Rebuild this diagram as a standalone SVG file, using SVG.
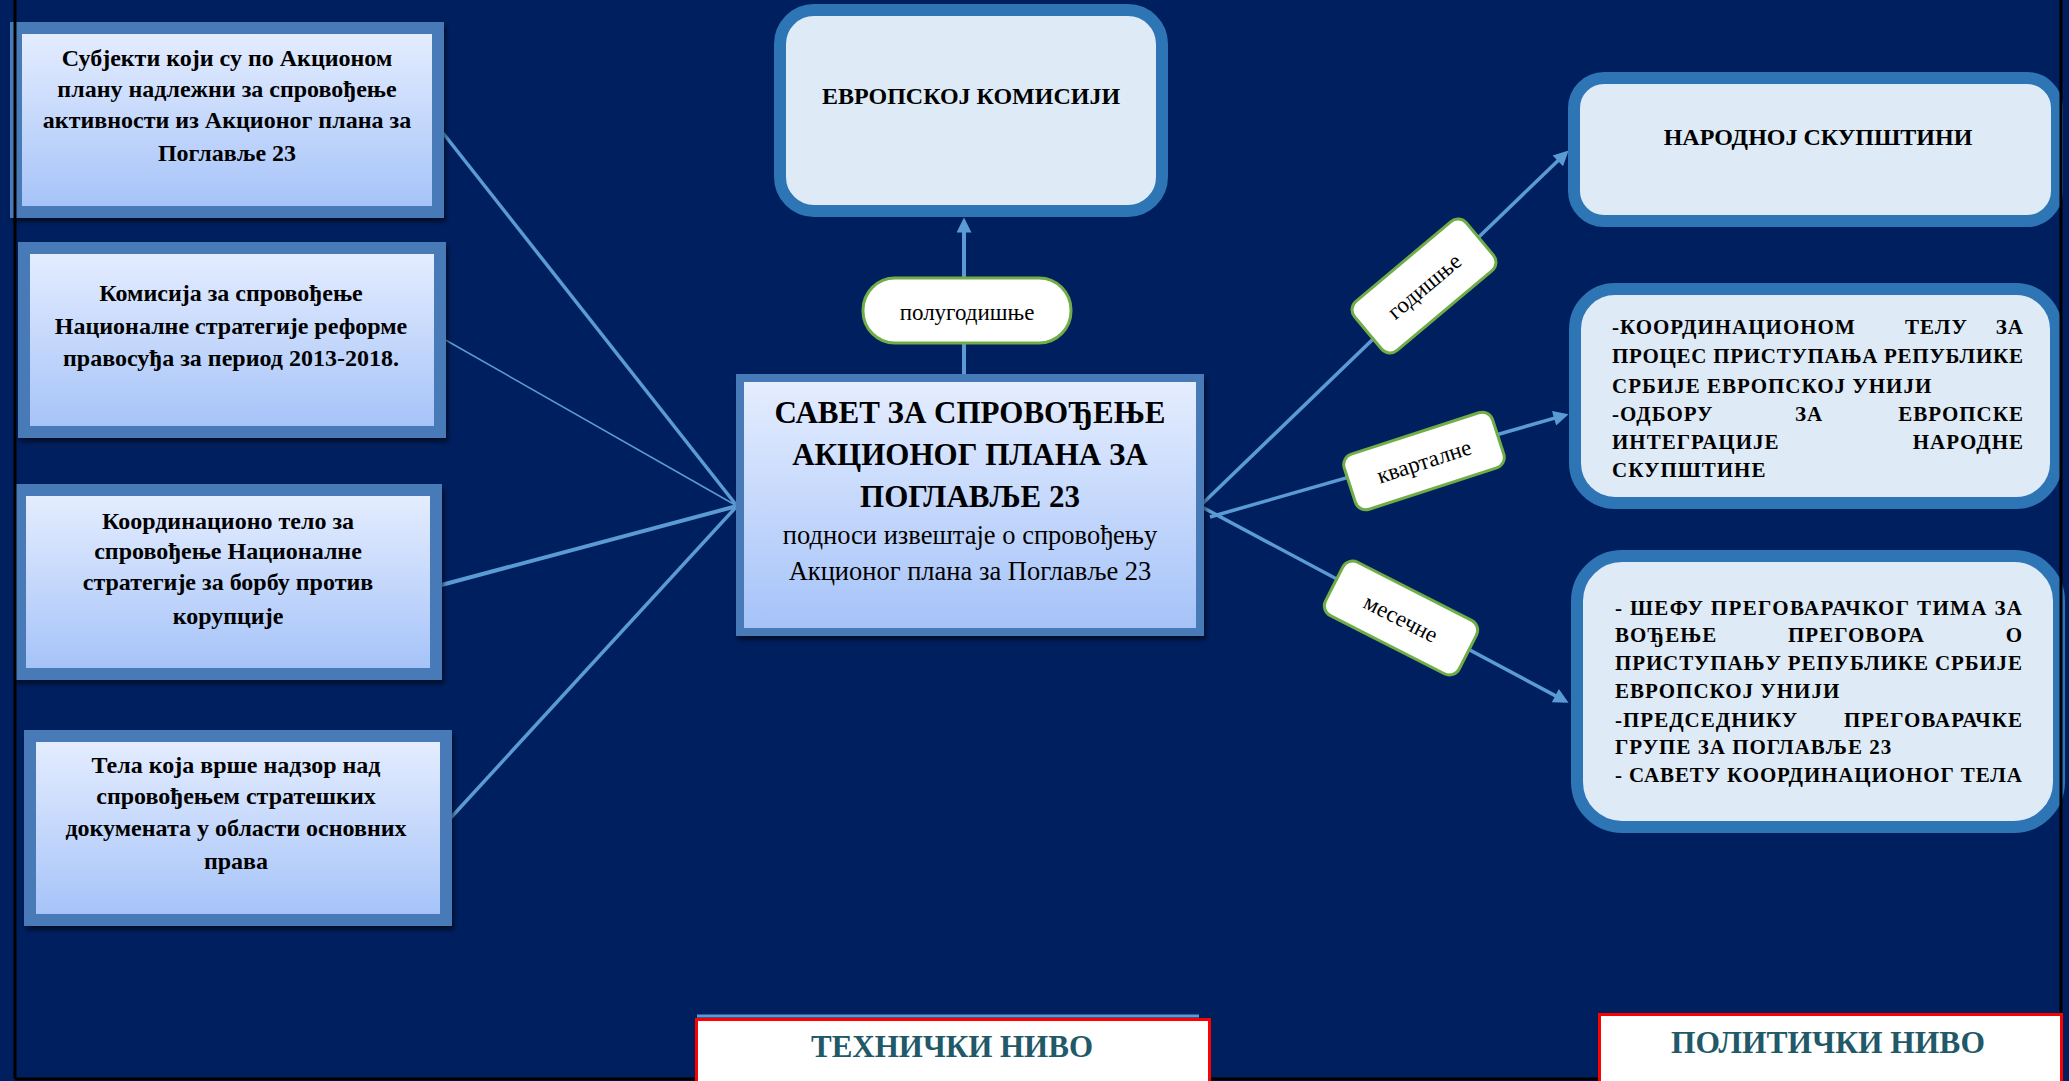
<svg xmlns="http://www.w3.org/2000/svg" width="2069" height="1081" viewBox="0 0 2069 1081">
<defs>
<linearGradient id="g" x1="0" y1="0" x2="0" y2="1">
<stop offset="0" stop-color="#E6EEFF"/>
<stop offset="1" stop-color="#A4C2F8"/>
</linearGradient>
<filter id="sh" x="-5%" y="-5%" width="110%" height="115%">
<feDropShadow dx="2" dy="4" stdDeviation="2" flood-color="#000" flood-opacity="0.55"/>
</filter>
<marker id="ah" viewBox="0 0 10 10" refX="7" refY="5" markerWidth="16" markerHeight="15" markerUnits="userSpaceOnUse" orient="auto">
<path d="M0,0 L10,5 L0,10 z" fill="#5B9BD5"/>
</marker>
<style>
.src{fill:url(#g);stroke:#487AB8;stroke-width:12;filter:url(#sh)}
.rb{fill:#DEEAF6;stroke:#2E75B6;stroke-width:12}
.t{font-family:"Liberation Serif","Times New Roman",serif;fill:#000}
.b{font-weight:bold}
.lt{font-size:24px;font-weight:bold;text-anchor:middle}
.rt{font-size:21px;font-weight:bold;letter-spacing:1px}
.lbl{fill:#fff;stroke:#70AD47;stroke-width:3}
.lbt{font-size:23px;text-anchor:middle}
.cn{stroke:#5B9BD5;fill:none}
.lev{font-family:"Liberation Serif","Times New Roman",serif;font-weight:bold;fill:#215968;text-anchor:middle}
</style>
</defs>
<rect x="0" y="0" width="2069" height="1081" fill="#001F5F"/>

<g id="connectors">
<line class="cn" x1="443" y1="133" x2="737" y2="506" stroke-width="3.5"/>
<line class="cn" x1="442" y1="338" x2="737" y2="506" stroke-width="1.5"/>
<line class="cn" x1="434" y1="587" x2="737" y2="506" stroke-width="4"/>
<line class="cn" x1="446" y1="823" x2="737" y2="506" stroke-width="3.5"/>
<line class="cn" x1="964" y1="374" x2="964" y2="222" stroke-width="4" marker-end="url(#ah)"/>
<line class="cn" x1="1200" y1="506" x2="1565.4" y2="153.5" stroke-width="3.5" marker-end="url(#ah)"/>
<line class="cn" x1="1210" y1="517" x2="1564.2" y2="415.4" stroke-width="3.5" marker-end="url(#ah)"/>
<line class="cn" x1="1200" y1="506" x2="1564.6" y2="700.6" stroke-width="3.5" marker-end="url(#ah)"/>
</g>

<g id="n1">
<rect class="src" x="16" y="28" width="422" height="184"/>
<text class="t lt" x="227"><tspan x="227" y="66">Субјекти који су по Акционом</tspan><tspan x="227" y="97">плану надлежни за спровођење</tspan><tspan x="227" y="128">активности из Акционог плана за</tspan><tspan x="227" y="161">Поглавље 23</tspan></text>
</g>
<g id="n2">
<rect class="src" x="24" y="248" width="416" height="184"/>
<text class="t lt"><tspan x="231" y="301">Комисија за спровођење</tspan><tspan x="231" y="334">Националне стратегије реформе</tspan><tspan x="231" y="366">правосуђа за период 2013-2018.</tspan></text>
</g>
<g id="n3">
<rect class="src" x="20" y="490" width="416" height="184"/>
<text class="t lt"><tspan x="228" y="529">Координационо тело за</tspan><tspan x="228" y="559">спровођење Националне</tspan><tspan x="228" y="590">стратегије за борбу против</tspan><tspan x="228" y="624">корупције</tspan></text>
</g>
<g id="n4">
<rect class="src" x="30" y="736" width="416" height="184"/>
<text class="t lt"><tspan x="236" y="773">Тела која врше надзор над</tspan><tspan x="236" y="804">спровођењем стратешких</tspan><tspan x="236" y="836">докумената у области основних</tspan><tspan x="236" y="869">права</tspan></text>
</g>

<g id="center">
<rect x="740" y="378" width="460" height="254" fill="url(#g)" stroke="#487AB8" stroke-width="8" filter="url(#sh)"/>
<text class="t b" font-size="31" text-anchor="middle"><tspan x="970" y="423">САВЕТ ЗА СПРОВОЂЕЊЕ</tspan><tspan x="970" y="465">АКЦИОНОГ  ПЛАНА ЗА</tspan><tspan x="970" y="507">ПОГЛАВЉЕ 23</tspan></text>
<text class="t" font-size="26.5" text-anchor="middle"><tspan x="970" y="544">подноси  извештаје  о спровођењу</tspan><tspan x="970" y="580">Акционог плана за Поглавље  23</tspan></text>
</g>

<g id="ek">
<rect class="rb" x="780" y="10" width="382" height="201" rx="34"/>
<text class="t b" x="971" y="104" font-size="24" text-anchor="middle">ЕВРОПСКОЈ КОМИСИЈИ</text>
</g>

<g id="ns">
<rect class="rb" x="1574" y="78" width="483" height="143" rx="30"/>
<text class="t b" x="1818" y="145" font-size="24" text-anchor="middle">НАРОДНОЈ СКУПШТИНИ</text>
</g>

<g id="kt">
<rect class="rb" x="1575" y="289" width="481" height="214" rx="40"/>
<g class="t rt">
<text x="1612" y="334">-КООРДИНАЦИОНОМ</text><text x="1905" y="334">ТЕЛУ</text><text x="2024" y="334" text-anchor="end">ЗА</text>
<text x="1612" y="363" textLength="412" lengthAdjust="spacing">ПРОЦЕС ПРИСТУПАЊА РЕПУБЛИКЕ</text>
<text x="1612" y="393">СРБИЈЕ ЕВРОПСКОЈ УНИЈИ</text>
<text x="1612" y="421">-ОДБОРУ</text><text x="1795" y="421">ЗА</text><text x="2024" y="421" text-anchor="end">ЕВРОПСКЕ</text>
<text x="1612" y="449">ИНТЕГРАЦИЈЕ</text><text x="2024" y="449" text-anchor="end">НАРОДНЕ</text>
<text x="1612" y="477">СКУПШТИНЕ</text>
</g>
</g>

<g id="sp">
<rect class="rb" x="1577" y="556" width="482" height="271" rx="45"/>
<g class="t rt">
<text x="1615" y="615" textLength="408" lengthAdjust="spacing">- ШЕФУ ПРЕГОВАРАЧКОГ ТИМА ЗА</text>
<text x="1615" y="642">ВОЂЕЊЕ</text><text x="1788" y="642">ПРЕГОВОРА</text><text x="2023" y="642" text-anchor="end">О</text>
<text x="1615" y="670" textLength="408" lengthAdjust="spacing">ПРИСТУПАЊУ РЕПУБЛИКЕ СРБИЈЕ</text>
<text x="1615" y="698">ЕВРОПСКОЈ УНИЈИ</text>
<text x="1615" y="727">-ПРЕДСЕДНИКУ</text><text x="2023" y="727" text-anchor="end">ПРЕГОВАРАЧКЕ</text>
<text x="1615" y="754">ГРУПЕ ЗА ПОГЛАВЉЕ 23</text>
<text x="1615" y="782" textLength="408" lengthAdjust="spacing">- САВЕТУ КООРДИНАЦИОНОГ ТЕЛА</text>
</g>
</g>

<g id="lbl-polu">
<rect class="lbl" x="863" y="278" width="208" height="65" rx="32"/>
<text class="t lbt" x="967" y="320">полугодишње</text>
</g>
<g id="lbl-god" transform="translate(1424,286) rotate(-40)">
<rect class="lbl" x="-73" y="-32" width="146" height="64" rx="11"/>
<text class="t lbt" x="0" y="8">годишње</text>
</g>
<g id="lbl-kv" transform="translate(1424,461) rotate(-18)">
<rect class="lbl" x="-78" y="-29" width="156" height="58" rx="11"/>
<text class="t lbt" x="0" y="8">кварталне</text>
</g>
<g id="lbl-mes" transform="translate(1401,618) rotate(27)">
<rect class="lbl" x="-75" y="-30" width="150" height="60" rx="11"/>
<text class="t lbt" x="0" y="8">месечне</text>
</g>

<g id="frame" stroke="#000" stroke-width="3" fill="none">
<line x1="15" y1="0" x2="15" y2="1079"/>
<line x1="15" y1="1079" x2="2061" y2="1079"/>
<line x1="2061" y1="0" x2="2061" y2="1079"/>
</g>

<g id="tech">
<line x1="697" y1="1016" x2="1199" y2="1016" stroke="#5B9BD5" stroke-width="3"/>
<rect x="696.5" y="1019.5" width="513" height="80" fill="#fff" stroke="#FF0000" stroke-width="3"/>
<text class="lev" x="952" y="1057" font-size="31">ТЕХНИЧКИ  НИВО</text>
</g>
<g id="pol">
<rect x="1599.5" y="1014.5" width="462" height="80" fill="#fff" stroke="#FF0000" stroke-width="3"/>
<text class="lev" x="1828" y="1053" font-size="31.5">ПОЛИТИЧКИ  НИВО</text>
</g>
</svg>
